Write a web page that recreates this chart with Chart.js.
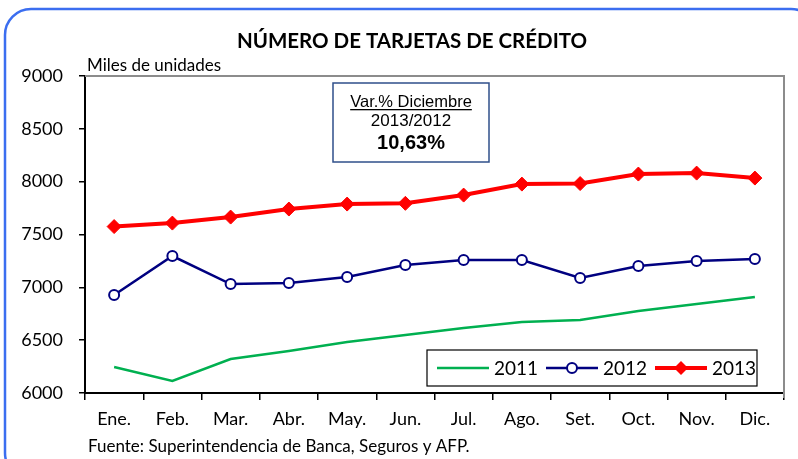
<!DOCTYPE html>
<html>
<head>
<meta charset="utf-8">
<script src="https://cdn.jsdelivr.net/npm/chart.js"></script>
<style>
  html, body { margin: 0; padding: 0; background: #fff; }
  #wrap { width: 798px; height: 459px; }
</style>
</head>
<body>
<div id="wrap"><canvas id="chart" width="798" height="459"></canvas></div>
<script>
// months on the x axis
const meses = ['Ene.', 'Feb.', 'Mar.', 'Abr.', 'May.', 'Jun.', 'Jul.', 'Ago.', 'Set.', 'Oct.', 'Nov.', 'Dic.'];

// miles de unidades
const serie2011 = [6246, 6114, 6322, 6397, 6482, 6549, 6615, 6672, 6691, 6776, 6842, 6908];
const serie2012 = [6927, 7296, 7031, 7041, 7097, 7211, 7258, 7258, 7088, 7201, 7249, 7268];
const serie2013 = [7575, 7608, 7665, 7741, 7788, 7795, 7873, 7977, 7982, 8072, 8081, 8034];

const yMin = 6000, yMax = 9000, yStep = 500;

const FONT = 'Lato, "Open Sans", sans-serif';
const ARIAL = '"Liberation Sans", Arial, sans-serif';

const decor = {
    id: 'decor',
    beforeDraw(chart) {
        const c = chart.ctx;
        c.save();
        c.fillStyle = '#fff';
        c.fillRect(0, 0, chart.width, chart.height);
        // outer blue rounded frame
        c.strokeStyle = '#3B6EF0';
        c.lineWidth = 2.5;
        c.beginPath();
        c.roundRect(5, 9, 812, 470, 26);
        c.stroke();
        c.restore();
    },
    afterDraw(chart) {
        const c = chart.ctx;
        const a = chart.chartArea;
        c.save();
        // gray top/right plot border
        c.strokeStyle = '#8c8c8c';
        c.lineWidth = 2;
        c.beginPath();
        c.moveTo(a.left, a.top);
        c.lineTo(a.right, a.top);
        c.lineTo(a.right, a.bottom + 5);
        c.stroke();

        // title + notes
        c.fillStyle = '#000';
        c.textBaseline = 'alphabetic';
        c.textAlign = 'center';
        c.font = 'bold 20.5px ' + FONT;
        c.fillText('NÚMERO DE TARJETAS DE CRÉDITO', 412, 48);
        c.textAlign = 'left';
        c.font = '17px ' + FONT;
        c.fillText('Miles de unidades', 87, 71);
        c.fillText('Fuente: Superintendencia de Banca, Seguros y AFP.', 88, 452);

        // variation box
        c.fillStyle = '#fff';
        c.fillRect(333, 83, 156, 79);
        c.strokeStyle = '#2F4F8A';
        c.lineWidth = 1.5;
        c.strokeRect(333, 83, 156, 79);
        c.fillStyle = '#000';
        c.textAlign = 'center';
        c.font = '16.5px ' + ARIAL;
        const t1 = 'Var.% Diciembre';
        c.fillText(t1, 411, 107);
        const w1 = c.measureText(t1).width;
        c.fillRect(411 - w1 / 2, 109, w1, 1.3);
        c.font = '17px ' + ARIAL;
        c.fillText('2013/2012', 411, 126);
        c.font = 'bold 20px ' + ARIAL;
        c.fillText('10,63%', 411, 149);

        // legend box
        c.fillStyle = '#fff';
        c.fillRect(427, 350, 330, 36);
        c.strokeStyle = '#000';
        c.lineWidth = 1.2;
        c.strokeRect(427, 350, 330, 36);
        const ly = 368;
        const items = [
            { x: 437, ds: chart.data.datasets[0] },
            { x: 546, ds: chart.data.datasets[1] },
            { x: 655, ds: chart.data.datasets[2] }
        ];
        items.forEach(it => {
            const ds = it.ds;
            c.strokeStyle = ds.borderColor;
            c.lineWidth = ds.borderWidth;
            c.beginPath();
            c.moveTo(it.x, ly);
            c.lineTo(it.x + 52, ly);
            c.stroke();
            const mx = it.x + 26;
            if (ds.pointStyle === 'circle' && ds.pointRadius > 0) {
                c.fillStyle = ds.pointBackgroundColor;
                c.strokeStyle = ds.pointBorderColor;
                c.lineWidth = ds.pointBorderWidth;
                c.beginPath();
                c.arc(mx, ly, ds.pointRadius, 0, Math.PI * 2);
                c.fill();
                c.stroke();
            } else if (ds.pointStyle === 'rectRot') {
                const r = ds.pointRadius;
                c.fillStyle = ds.pointBackgroundColor;
                c.beginPath();
                c.moveTo(mx, ly - r);
                c.lineTo(mx + r, ly);
                c.lineTo(mx, ly + r);
                c.lineTo(mx - r, ly);
                c.closePath();
                c.fill();
            }
            c.fillStyle = '#000';
            c.textAlign = 'left';
            c.textBaseline = 'middle';
            c.font = '19px ' + FONT;
            c.fillText(ds.label, it.x + 57, ly + 1);
        });
        c.restore();
    }
};

new Chart(document.getElementById('chart'), {
    type: 'line',
    data: {
        labels: meses,
        datasets: [{
            label: '2011',
            data: serie2011,
            borderColor: '#00B050',
            backgroundColor: '#00B050',
            borderWidth: 2.5,
            pointRadius: 0,
            pointStyle: false,
            tension: 0
        }, {
            label: '2012',
            data: serie2012,
            borderColor: '#000080',
            backgroundColor: '#000080',
            borderWidth: 2.5,
            pointStyle: 'circle',
            pointRadius: 5,
            pointBackgroundColor: '#fff',
            pointBorderColor: '#000080',
            pointBorderWidth: 2,
            tension: 0
        }, {
            label: '2013',
            data: serie2013,
            borderColor: '#FF0000',
            backgroundColor: '#FF0000',
            borderWidth: 4,
            pointStyle: 'rectRot',
            pointRadius: 7,
            pointBackgroundColor: '#FF0000',
            pointBorderColor: '#FF0000',
            pointBorderWidth: 1,
            tension: 0
        }]
    },
    options: {
        responsive: false,
        animation: false,
        devicePixelRatio: 1,
        layout: { padding: { left: 0, right: 14, top: 76, bottom: 0 } },
        plugins: {
            legend: { display: false },
            tooltip: { enabled: false },
            title: { display: false }
        },
        scales: {
            x: {
                offset: true,
                afterFit(scale) { scale.height = 66; },
                grid: {
                    offset: true,
                    drawOnChartArea: false,
                    drawTicks: true,
                    tickLength: 7,
                    color: '#000',
                    lineWidth: 1.5
                },
                border: { display: true, color: '#000', width: 2 },
                ticks: {
                    color: '#000',
                    font: { family: FONT, size: 18 },
                    padding: 8,
                    maxRotation: 0,
                    autoSkip: false
                }
            },
            y: {
                min: yMin,
                max: yMax,
                afterFit(scale) { scale.width = 85; },
                grid: {
                    drawOnChartArea: false,
                    drawTicks: true,
                    tickLength: 6,
                    color: '#000',
                    lineWidth: 1.5
                },
                border: { display: true, color: '#000', width: 2 },
                ticks: {
                    stepSize: yStep,
                    color: '#000',
                    font: { family: FONT, size: 18 },
                    padding: 16,
                    callback: v => String(v)
                }
            }
        }
    },
    plugins: [decor]
});
</script>
</body>
</html>
